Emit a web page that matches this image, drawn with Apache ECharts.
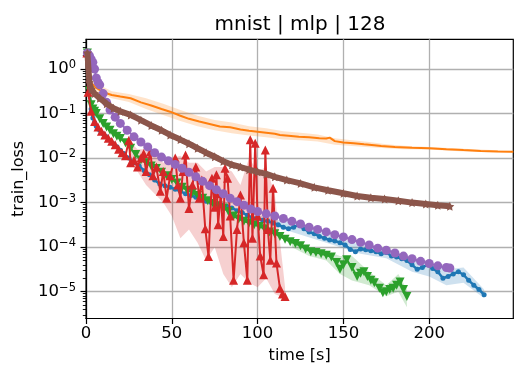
<!DOCTYPE html>
<html>
<head>
<meta charset="utf-8">
<script src="https://cdn.jsdelivr.net/npm/echarts@6/dist/echarts.min.js"></script>
<style>html,body{margin:0;padding:0;background:#fff}#c{width:532px;height:380px}</style>
</head>
<body>
<div id="c"></div>
<script>
// ---------- data (time [s], train_loss) ----------
const title = 'mnist | mlp | 128';
const xTicks = [0, 50, 100, 150, 200];
const yTicks = [1e-5, 1e-4, 1e-3, 1e-2, 1e-1, 1];

const blueT = [1,2,3,4,5,6,8,10,12,14,16,18,20,22,25,28,31,34,37,40,43,46,49,52,55,58,61,64,67,70,73,76,79,82,85,88,91,94,97,100,103,106,109,112,115,118,121,124,127,130,133,136,139,142,145,148,151,154,157,160,163,166,169,172,175,178,181,184,187,190,193,196,199,202,205,208,211,214,217,220,223,226,229,232];
const blueLoss = [2.2,0.32,0.126,0.079,0.063,0.052,0.042,0.035,0.030,0.025,0.021,0.018,0.015,0.0126,0.01,7.9e-3,6.6e-3,5.2e-3,4.2e-3,3.2e-3,2.6e-3,2.4e-3,2.2e-3,2.0e-3,1.8e-3,1.58e-3,1.45e-3,1.32e-3,1.17e-3,1.07e-3,1.0e-3,9.3e-4,8.7e-4,8.3e-4,7.6e-4,6.6e-4,6.0e-4,5.2e-4,4.6e-4,4.4e-4,4.0e-4,3.8e-4,3.5e-4,3.2e-4,2.8e-4,2.6e-4,2.8e-4,3.2e-4,2.6e-4,2.2e-4,2.0e-4,1.74e-4,1.58e-4,1.45e-4,1.38e-4,1.26e-4,1.12e-4,8.9e-5,7.9e-5,9.1e-5,8.7e-5,8.3e-5,7.9e-5,7.1e-5,7.6e-5,6.3e-5,6.0e-5,5.5e-5,5.0e-5,4.0e-5,3.2e-5,3.5e-5,4.0e-5,3.3e-5,2.8e-5,2.0e-5,2.2e-5,2.5e-5,2.8e-5,2.4e-5,1.8e-5,1.4e-5,1.12e-5,8.5e-6];
const blueBandT = [100,120,140,160,175,190,200,210,220,232];
const blueLo = [3.8e-4,2.2e-4,1.26e-4,7.1e-5,5.6e-5,2.8e-5,2.2e-5,1.4e-5,1.58e-5,7.1e-6];
const blueHi = [5.2e-4,3.5e-4,2.0e-4,1.12e-4,9.5e-5,5.6e-5,4.5e-5,3.2e-5,3.5e-5,1.12e-5];

const orangeT = [1,3,5,7,10,15,20,26,32,38,44,49,55,60,66,72,78,84,90,95,100,105,110,113,118,124,130,136,140,142,145,150,156,162,168,172,180,190,200,210,220,230,240,249];
const orangeLoss = [1.0,0.5,0.4,0.355,0.30,0.26,0.24,0.22,0.178,0.151,0.126,0.11,0.089,0.076,0.066,0.058,0.051,0.049,0.044,0.041,0.039,0.037,0.035,0.033,0.0316,0.030,0.0295,0.028,0.0275,0.0288,0.024,0.0224,0.0214,0.0204,0.0195,0.0186,0.0178,0.017,0.0166,0.0158,0.0151,0.0145,0.0141,0.0138];
const orangeBandT = [5,15,25,35,45,55,65,75,85,95,105,115,125,135,145,155,165,175,185,200,220,249];
const orangeLo = [0.316,0.22,0.182,0.126,0.093,0.068,0.052,0.042,0.036,0.032,0.0295,0.026,0.025,0.0234,0.02,0.0186,0.0174,0.0166,0.0158,0.0155,0.0141,0.0132];
const orangeHi = [0.50,0.316,0.275,0.22,0.166,0.12,0.089,0.072,0.063,0.052,0.047,0.040,0.037,0.034,0.028,0.025,0.023,0.0204,0.019,0.0178,0.0162,0.0145];

const greenT = [0.8,2,3,4,5,6,8,10,12,14,16,18,20,23,26,29,32,35,38,41,44,47,50,53,56,59,62,65,68,71,74,77,80,83,86,89,92,95,98,101,104,107,110,113,116,119,122,125,128,131,134,137,140,143,146,148,150,152,155,158,160,162,164,166,168,171,173,175,177,179,181,183,185,187];
const greenLoss = [2.3,0.32,0.158,0.126,0.112,0.1,0.076,0.06,0.05,0.042,0.035,0.031,0.0275,0.022,0.0166,0.012,0.0091,0.0079,0.0066,0.0058,0.0048,0.004,0.0033,0.00275,0.0022,0.0019,0.00166,0.00145,0.00126,0.0011,0.00095,0.00085,0.00076,0.00063,0.0005,0.00043,0.00038,0.00035,0.00032,0.00029,0.00026,0.00022,0.0002,1.74e-4,1.51e-4,1.32e-4,1.2e-4,1.07e-4,9.1e-5,7.9e-5,7.6e-5,7.1e-5,6.6e-5,6.0e-5,4.5e-5,3.2e-5,4.0e-5,5.2e-5,3.5e-5,2.2e-5,2.6e-5,2.8e-5,2.2e-5,1.8e-5,1.58e-5,1.2e-5,9.5e-6,1.0e-5,1.12e-5,1.2e-5,1.4e-5,1.66e-5,1.12e-5,7.8e-6];
const greenBandT = [120,130,140,148,155,165,175,182,187];
const greenLo = [1.0e-4,6.3e-5,5.0e-5,2.5e-5,1.78e-5,1.4e-5,7.9e-6,1.0e-5,4.5e-6];
const greenHi = [1.51e-4,1.0e-4,8.3e-5,6.3e-5,6.3e-5,2.8e-5,1.4e-5,2.5e-5,1.12e-5];

const redT = [0.5,1.2,3,5,7,9,11,13,15,17,19,21,23,25,26,28,30,32,33.6,35,37.5,39,41,43.3,45,47,49,52,53.5,55,56.5,58,60,62,64,66,67.5,69.5,71.4,73.4,75,76,77,78.5,80,81,82.5,84,86,88,90,92,94,95.7,97,98.6,100,101.5,103.5,104.5,106,107.4,109,111,113,114.5,116];
const redLoss = [2.3,0.3,0.112,0.066,0.05,0.04,0.033,0.028,0.024,0.02,0.0158,0.0132,0.0112,0.025,0.0079,0.0089,0.0063,0.01,0.0126,0.005,0.0138,0.004,0.0063,0.0018,0.005,0.00126,0.004,0.01,0.0025,0.00126,0.005,0.0117,0.00074,0.0025,0.0063,0.00126,0.0032,0.00026,6.2e-5,0.0035,0.00079,0.0042,0.00032,0.00158,1.74e-4,0.0059,0.0035,0.0005,1.8e-5,0.00025,0.00148,1.26e-4,1.8e-5,0.0257,1.58e-4,0.0214,0.0005,6.3e-5,2.4e-5,0.0151,0.00025,5.1e-5,0.0021,4.4e-5,1.2e-5,8.9e-6,7.8e-6];
const redBandT = [25,30,35,40,45,50,55,60,65,70,75,80,85,90,95,100,105,110,116];
const redLo = [0.0079,0.005,0.0025,0.00158,0.001,0.0005,1.58e-4,2.5e-4,1.26e-4,5.0e-5,1.0e-4,2.5e-5,1.26e-5,2.5e-5,1.58e-5,1.26e-5,2.0e-5,8.9e-6,7.1e-6];
const redHi = [0.025,0.0158,0.0158,0.0126,0.0079,0.01,0.0112,0.0079,0.0079,0.005,0.0063,0.0063,0.005,0.0025,0.01,0.005,0.0063,0.00158,1.26e-5];

const purpleT = [0.8,2,3,4,5,6,7,8,10,12,14,17,20,24,28,32,36,40,44,48,52,56,60,64,68,72,76,80,84,88,92,96,100,105,110,115,120,125,130,135,140,145,150,155,160,165,170,175,180,185,190,195,200,205,210,212];
const purpleLoss = [2.3,2.0,1.66,1.41,1.0,0.63,0.5,0.44,0.28,0.178,0.12,0.083,0.06,0.042,0.030,0.023,0.0178,0.0132,0.0105,0.0087,0.0072,0.0059,0.0048,0.0038,0.003,0.0024,0.00195,0.00158,0.00126,0.00105,0.00087,0.00072,0.00063,0.00056,0.0005,0.00044,0.00038,0.00033,0.00028,0.00025,0.00022,0.00019,0.00017,1.48e-4,1.29e-4,1.12e-4,9.5e-5,8.5e-5,7.4e-5,6.3e-5,5.5e-5,4.8e-5,4.3e-5,3.8e-5,3.5e-5,3.4e-5];

const brownT = [0.8,2,3,5,8,12,16,20,26,32,38,44,49,55,60,65,70,75,80,85,90,95,100,105,110,117,125,133,141,150,158,166,174,182,190,198,205,212];
const brownLoss = [2.3,0.5,0.355,0.28,0.22,0.166,0.132,0.112,0.093,0.071,0.054,0.042,0.033,0.026,0.021,0.0166,0.0132,0.0107,0.0085,0.0071,0.0063,0.0055,0.0049,0.0044,0.0038,0.0032,0.0027,0.0022,0.0019,0.00162,0.00141,0.00129,0.0012,0.0011,0.001,0.00093,0.00087,0.00083];

const minorTicks = [];
[1e-6,1e-5,1e-4,1e-3,1e-2,1e-1,1].forEach(d => { for (let k = 2; k <= 9; k++) minorTicks.push(d * k); });

// ---------- helpers ----------
const zip = (a, b) => a.map((v, i) => [v, b[i]]);
const C = {blue:'#1f77b4', orange:'#ff7f0e', green:'#2ca02c', red:'#d62728', purple:'#9467bd', brown:'#8c564b'};
const alpha = (hex, a) => { const n = parseInt(hex.slice(1),16); return `rgba(${n>>16},${(n>>8)&255},${n&255},${a})`; };

function band(t, lo, hi, color) {
  return {
    type: 'custom', coordinateSystem: 'cartesian2d', clip: true, silent: true, z: 2,
    data: t.map((v, i) => [v, lo[i], hi[i]]),
    encode: {x: 0, y: [1, 2]},
    renderItem: function (params, api) {
      if (params.dataIndex !== 0) return null;
      const pts = [];
      for (let i = 0; i < t.length; i++) pts.push(api.coord([t[i], hi[i]]));
      for (let i = t.length - 1; i >= 0; i--) pts.push(api.coord([t[i], lo[i]]));
      return {type: 'polygon', shape: {points: pts}, style: {fill: alpha(color, 0.22)}};
    }
  };
}
function line(name, t, y, color, symbol, size, lw, z, extra) {
  return Object.assign({type:'line', name, data: zip(t, y), symbol, symbolSize: size, showSymbol: symbol !== 'none',
    lineStyle:{color, width: lw}, itemStyle:{color, borderWidth:0}, z: z}, extra || {});
}
const star = 'path://M0,-10L2.9,-4L9.5,-3.1L4.7,1.5L5.9,8.1L0,5L-5.9,8.1L-4.7,1.5L-9.5,-3.1L-2.9,-4Z';

const series = [
  band(blueBandT, blueLo, blueHi, C.blue),
  band(orangeBandT, orangeLo, orangeHi, C.orange),
  band(greenBandT, greenLo, greenHi, C.green),
  band(redBandT, redLo, redHi, C.red),
  line('blue', blueT, blueLoss, C.blue, 'circle', 5, 2.5, 3),
  line('orange', orangeT, orangeLoss, C.orange, 'none', 0, 2, 4),
  line('green', greenT, greenLoss, C.green, 'triangle', 9, 2, 5, {symbolRotate: 180}),
  line('red', redT, redLoss, C.red, 'triangle', 9, 2, 6),
  line('purple', purpleT, purpleLoss, C.purple, 'circle', 9, 2, 7),
  line('brown', brownT, brownLoss, C.brown, star, 9, 6, 8)
];

const font = 'DejaVu Sans';
const sup = v => {
  const e = Math.round(Math.log10(v));
  return '{b|10}{s|' + (e < 0 ? '\u2212' + (-e) : e) + '}';
};

const chart = echarts.init(document.getElementById('c'), null, {renderer:'canvas'});
chart.setOption({
  animation: false,
  backgroundColor: '#fff',
  title: {text: title, left: 295, top: 10, textAlign: 'center',
          textStyle: {fontFamily: font, fontSize: 20, fontWeight: 'normal', color: '#000'}},
  grid: {left: 86, right: 18.7, top: 39.3, bottom: 61.5, show: true, borderColor: '#000', borderWidth: 1.2, backgroundColor: 'transparent'},
  xAxis: {type: 'value', min: 0, max: 249,
    name: 'time [s]', nameLocation: 'middle', nameGap: 25,
    nameTextStyle: {fontFamily: font, fontSize: 16, color: '#000'},
    axisLine: {show: true, lineStyle: {color: '#000', width: 1.2}},
    axisTick: {show: true, length: 5.5, inside: false, customValues: xTicks, lineStyle: {color: '#000', width: 1.2}},
    axisLabel: {customValues: xTicks, margin: 7, fontFamily: font, fontSize: 16.5, color: '#000'},
    splitLine: {show: true, lineStyle: {color: '#b0b0b0', width: 1.3}}
  },
  yAxis: [{type: 'log', logBase: 10, min: 2.5e-6, max: 4.64, position: 'left',
    name: 'train_loss', nameLocation: 'middle', nameGap: 52, nameRotate: 90,
    nameTextStyle: {fontFamily: font, fontSize: 16, color: '#000'},
    axisLine: {show: true, lineStyle: {color: '#000', width: 1.2}},
    axisTick: {show: true, length: 5.5, customValues: yTicks, lineStyle: {color: '#000', width: 1.2}},
    axisLabel: {customValues: yTicks, margin: 10, formatter: sup,
      rich: {b: {fontFamily: font, fontSize: 16.5, color: '#000', lineHeight: 20},
             s: {fontFamily: font, fontSize: 11.5, color: '#000', lineHeight: 12, verticalAlign: 'top'}}},
    splitLine: {show: true, lineStyle: {color: '#b0b0b0', width: 1.3}}
  },{type: 'log', logBase: 10, min: 2.5e-6, max: 4.64, position: 'left', offset: 0,
    axisLine: {show: false},
    axisTick: {show: true, length: 3.2, customValues: minorTicks, lineStyle: {color: '#000', width: 0.9}},
    axisLabel: {show: false}, splitLine: {show: false}
  }],
  series: series
});
</script>
</body>
</html>
